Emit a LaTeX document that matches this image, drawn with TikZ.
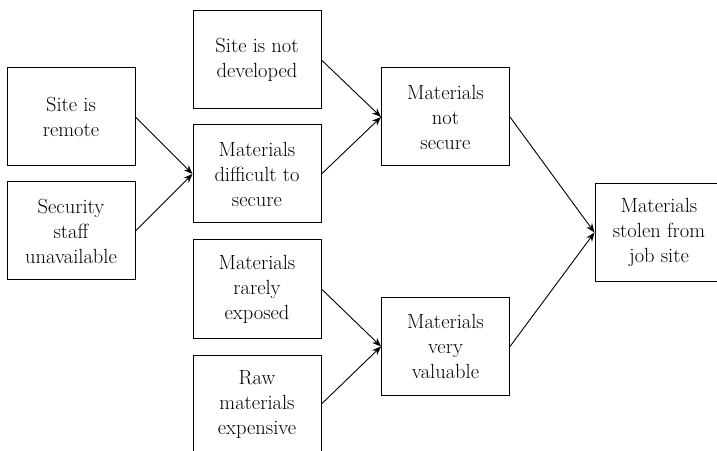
\documentclass[tikz,border=0pt]{standalone}
\usetikzlibrary{arrows.meta}
\begin{document}
\begin{tikzpicture}[x=1pt,y=1pt,
  box/.style={draw, line width=1pt, minimum width=128pt, minimum height=98pt, inner sep=2pt,
    align=center, font=\fontsize{20.5}{25}\selectfont},
  arr/.style={line width=0.9pt, -{Stealth[length=9pt,width=7pt]}}]
\useasboundingbox (0,0) rectangle (717,450);
\node[box] (remote) at (71,333) {Site is\\remote};
\node[box] (security) at (71,219) {Security\\staff\\unavailable};
\node[box] (notdev) at (257,390) {Site is not\\developed};
\node[box] (difficult) at (257,276) {Materials\\difficult to\\secure};
\node[box] (notsecure) at (445.5,333) {Materials\\not\\secure};
\node[box] (rarely) at (257,161) {Materials\\rarely\\exposed};
\node[box] (raw) at (257,46) {Raw\\materials\\expensive};
\node[box] (valuable) at (445.5,103.5) {Materials\\very\\valuable};
\node[box] (stolen) at (659,217.5) {Materials\\stolen from\\job site};
\draw[arr] (remote.east) -- (difficult.west);
\draw[arr] (security.east) -- (difficult.west);
\draw[arr] (notdev.east) -- (notsecure.west);
\draw[arr] (difficult.east) -- (notsecure.west);
\draw[arr] (rarely.east) -- (valuable.west);
\draw[arr] (raw.east) -- (valuable.west);
\draw[arr] (notsecure.east) -- (stolen.west);
\draw[arr] (valuable.east) -- (stolen.west);
\end{tikzpicture}
\end{document}
